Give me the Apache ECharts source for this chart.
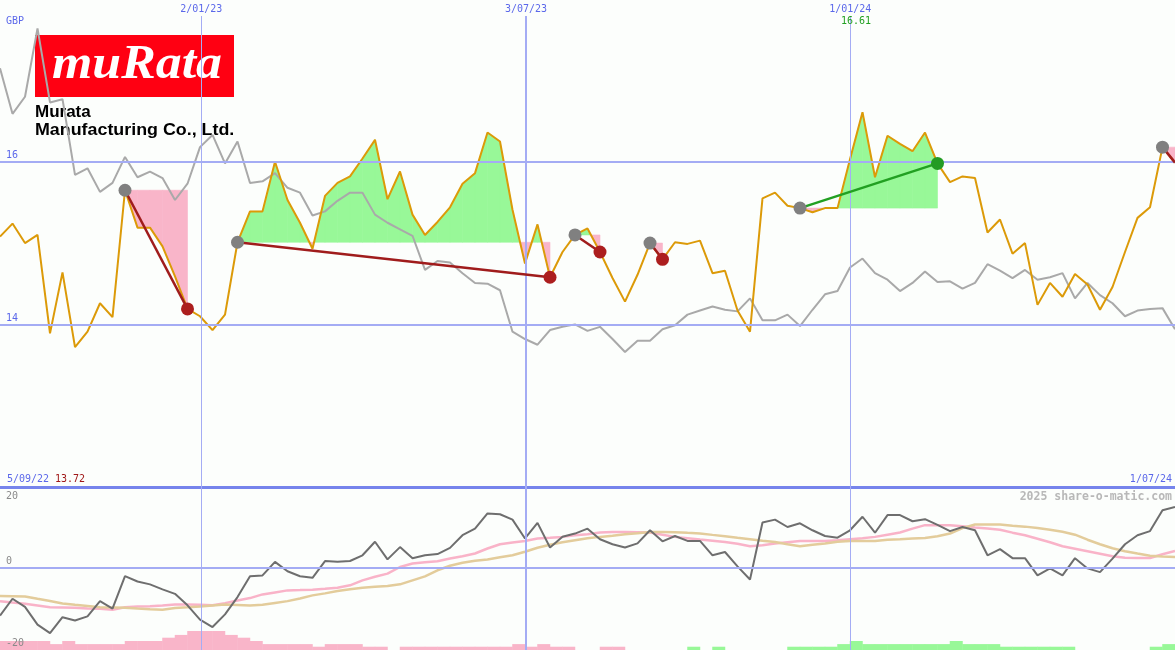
<!DOCTYPE html>
<html><head><meta charset="utf-8">
<script src="https://cdn.jsdelivr.net/npm/echarts@6/dist/echarts.min.js"></script>
<style>html,body{margin:0;padding:0;background:#fcfefc}#c{width:1175px;height:650px}</style>
</head><body><div id="c"></div>
<script>
// ---------- data (weekly points, index 0 = 5/09/22, index 94 = 1/07/24) ----------
const price = [15.08,15.24,15.00,15.10,13.89,14.64,13.72,13.91,14.26,14.09,
  15.65,15.19,15.19,14.96,14.59,14.19,14.10,13.93,14.12,15.01,
  15.39,15.39,16.00,15.53,15.25,14.93,15.58,15.74,15.82,16.04,
  16.27,15.54,15.88,15.35,15.10,15.26,15.44,15.73,15.86,16.36,
  16.25,15.41,14.75,15.23,14.58,14.89,15.10,15.18,14.89,14.57,
  14.28,14.61,15.00,14.80,15.01,14.99,15.03,14.63,14.66,14.17,
  13.91,15.55,15.62,15.46,15.43,15.38,15.43,15.43,16.03,16.61,
  15.81,16.32,16.22,16.13,16.36,15.98,15.75,15.82,15.80,15.13,
  15.29,14.87,15.00,14.24,14.51,14.34,14.62,14.49,14.18,14.46,
  14.89,15.31,15.44,16.18,15.99];
const relative = [17.15,16.59,16.80,17.64,16.73,16.77,15.84,15.92,15.63,15.74,
  16.06,15.81,15.88,15.80,15.53,15.73,16.18,16.33,15.98,16.25,
  15.74,15.76,15.86,15.68,15.62,15.34,15.39,15.52,15.62,15.62,
  15.35,15.25,15.17,15.09,14.67,14.78,14.76,14.63,14.51,14.50,
  14.42,13.91,13.82,13.75,13.93,13.97,14.00,13.92,13.97,13.82,
  13.66,13.80,13.80,13.94,13.99,14.12,14.17,14.22,14.18,14.16,
  14.32,14.05,14.05,14.12,13.98,14.18,14.37,14.41,14.70,14.81,
  14.63,14.55,14.41,14.51,14.65,14.52,14.53,14.44,14.51,14.74,
  14.66,14.57,14.67,14.55,14.58,14.63,14.32,14.51,14.36,14.26,
  14.10,14.17,14.19,14.20,13.94];
const oscillator = [-11.6,-7.5,-9.5,-13.8,-15.9,-12.0,-12.8,-11.8,-8.1,-9.9,
  -2.0,-3.3,-4.0,-5.2,-6.3,-9.1,-12.6,-14.4,-11.3,-7.1,
  -2.0,-1.8,1.5,-0.8,-2.0,-2.4,1.7,1.5,1.7,3.1,
  6.4,2.1,5.1,2.4,3.1,3.4,4.9,8.0,9.6,13.3,
  13.1,11.8,7.2,11.0,5.0,7.6,8.4,9.6,7.0,5.8,
  5.0,6.0,9.2,6.5,7.8,6.6,6.6,3.1,3.9,0.4,
  -2.8,11.1,11.8,10.0,10.9,9.2,7.8,7.4,9.2,12.5,
  8.6,12.9,12.9,11.4,11.9,10.5,9.0,10.0,9.2,3.1,
  4.6,2.4,2.4,-1.8,-0.1,-1.8,2.4,-0.1,-1.0,2.3,
  5.8,8.0,9.0,14.1,14.9];
const maFast = [-8.08,-8.40,-8.71,-9.13,-9.55,-9.62,-9.69,-9.87,-9.94,-10.18,
  -9.55,-9.38,-9.30,-9.13,-8.89,-8.89,-8.96,-9.06,-8.57,-7.91,
  -7.34,-6.44,-5.95,-5.46,-5.39,-5.29,-5.09,-4.80,-4.23,-3.01,
  -2.15,-1.37,0.24,1.08,1.40,1.64,2.30,2.86,3.53,4.75,
  5.80,6.22,6.61,7.20,7.39,7.59,8.00,8.25,8.67,8.81,
  8.81,8.74,8.67,8.13,7.59,7.27,6.95,6.66,6.36,5.92,
  5.31,5.56,5.97,6.29,6.61,6.61,6.61,6.78,7.03,7.27,
  7.59,8.13,8.67,9.60,10.45,10.45,10.45,10.21,9.89,9.65,
  9.35,8.62,8.00,7.15,6.29,5.31,4.70,4.09,3.48,2.86,
  2.50,2.45,2.45,3.35,4.16];
const maSlow = [-6.85,-6.88,-6.93,-7.49,-8.03,-8.64,-8.96,-9.25,-9.55,-9.62,
  -9.69,-9.87,-10.04,-10.18,-9.74,-9.57,-9.38,-9.13,-8.89,-9.01,
  -9.13,-8.96,-8.52,-8.08,-7.42,-6.68,-6.19,-5.63,-5.21,-4.80,
  -4.60,-4.41,-3.99,-3.01,-2.03,-0.56,0.54,1.27,1.76,2.06,
  2.62,3.11,3.97,4.94,5.68,6.29,6.78,7.27,7.59,7.88,
  8.25,8.49,8.79,8.81,8.74,8.57,8.42,8.08,7.76,7.39,
  7.03,6.66,6.36,5.80,5.31,5.68,5.97,6.41,6.61,6.61,
  6.61,6.90,7.03,7.20,7.34,7.76,8.42,9.72,10.62,10.62,
  10.62,10.33,10.09,9.77,9.35,8.86,8.13,6.90,5.80,4.82,
  4.09,3.53,2.99,2.79,2.69];
const histogram = [-2.75,-2.75,-2.75,-2.75,-1.8,-2.75,-1.8,-1.8,-1.8,-1.8,
  -2.75,-2.75,-2.75,-3.75,-4.6,-5.8,-5.8,-5.8,-4.6,-3.75,
  -2.75,-1.8,-1.8,-1.8,-1.8,-1,-1.8,-1.8,-1.8,-1,
  -1,0,-1,-1,-1,-1,-1,-1,-1,-1,
  -1,-1.8,-1,-1.8,-1,-1,0,0,-1,-1,
  0,0,0,0,0,1,0,1,0,0,
  0,0,0,1,1,1,1,1.8,2.75,1.8,
  1.8,1.8,1.8,1.8,1.8,1.8,2.75,1.8,1.8,1.8,
  1,1,1,1,1,1,0,0,0,0,
  0,0,1,1.8,0];
const priceTicks = [16, 14];
const oscTicks = [20, 0, -20];
const dateTickPos = [16.1, 42.08, 68.02];
const dateTickLabels = ['2/01/23', '3/07/23', '1/01/24'];
const firstDate = '5/09/22';
const lastDate = '1/07/24';
const currency = 'GBP';
const tradeEntry = [10, 19, 46, 52, 64, 93];
const tradeExit = [15, 44, 48, 53, 75, 94];
const tradeClosed = [true, true, true, true, true, false];

// ---------- styles ----------
const BLUE_TXT = '#5b68ea', GRID = '#a4acf4', SEP = '#7684ec';
const ORANGE = '#dc9a08', GREYLINE = '#a9a9a9', OSC = '#6e6e6e';
const PINK = '#f9b5c9', GREEN = '#98f898', TAN = '#e3cc9b', PINKMA = '#f9b3c8';
const MONO = '"DejaVu Sans Mono", monospace';

const chart = echarts.init(document.getElementById('c'), null, {renderer: 'canvas'});

function renderFill(params, api) {
  const t = params.dataIndex;
  const s = tradeEntry[t], e = tradeExit[t];
  const E = price[s];
  const kids = [];
  const poly = (pts, up) => kids.push({
    type: 'polygon',
    shape: {points: pts.map(p => api.coord(p))},
    style: {fill: up ? GREEN : PINK, stroke: up ? GREEN : PINK, lineWidth: 0.6}
  });
  for (let i = s; i < e; i++) {
    const p0 = price[i], p1 = price[i + 1], d0 = p0 - E, d1 = p1 - E;
    if (d0 * d1 < 0) {
      const m = i + d0 / (d0 - d1);
      poly([[i, E], [i, p0], [m, E]], d0 > 0);
      poly([[m, E], [i + 1, p1], [i + 1, E]], d1 > 0);
    } else {
      poly([[i, E], [i, p0], [i + 1, p1], [i + 1, E]], d0 + d1 > 0);
    }
  }
  return {type: 'group', children: kids};
}

const maxP = Math.max(...price), minP = Math.min(...price);
const idx = a => a.map((v, i) => [i, v]);
const CLEAR = 'rgba(0,0,0,0)';

const topMark = {
  symbol: ['none', 'none'], silent: true, animation: false,
  data: [
    ...priceTicks.map(v => ({
      yAxis: v,
      lineStyle: {color: GRID, width: 2, type: 'solid'},
      label: {show: true, position: 'insideStartTop', formatter: String(v), color: BLUE_TXT,
        fontFamily: MONO, fontSize: 10, distance: [6, 1]}
    })),
    ...dateTickPos.map((x, k) => ({
      xAxis: x,
      lineStyle: {color: GRID, width: k === 1 ? 2 : 1, type: 'solid'},
      label: {show: true, position: 'end', formatter: dateTickLabels[k], color: BLUE_TXT,
        fontFamily: MONO, fontSize: 10, distance: 2}
    }))
  ]
};
const botMark = {
  symbol: ['none', 'none'], silent: true, animation: false,
  data: [
    ...oscTicks.map(v => ({
      yAxis: v,
      lineStyle: v === 0 ? {color: GRID, width: 2, type: 'solid'} : {color: CLEAR, width: 1, type: 'solid'},
      label: {show: true, position: v === 20 ? 'insideStartBottom' : 'insideStartTop',
        formatter: String(v), color: '#8a8a8a', fontFamily: MONO, fontSize: 10,
        distance: v === 20 ? [6, 5] : [6, 2]}
    })),
    ...dateTickPos.map((x, k) => ({
      xAxis: x,
      lineStyle: {color: GRID, width: k === 1 ? 2 : 1, type: 'solid'},
      label: {show: false}
    }))
  ]
};

const option = {
  backgroundColor: '#fcfefc',
  animation: false,
  grid: [
    {left: 0, right: 0, top: 16, height: 471},
    {left: 0, right: 0, top: 486, height: 164}
  ],
  xAxis: [
    {gridIndex: 0, type: 'value', min: 0, max: 94,
      axisLine: {show: true, onZero: false, lineStyle: {color: SEP, width: 3}},
      axisTick: {show: false}, axisLabel: {show: false}, splitLine: {show: false}},
    {gridIndex: 1, type: 'value', min: 0, max: 94, show: false}
  ],
  yAxis: [
    {gridIndex: 0, type: 'value', min: 12, max: 17.793, show: false},
    {gridIndex: 1, type: 'value', min: -20, max: 20, show: false},
    {gridIndex: 1, type: 'value', min: 0, max: 50, show: false}
  ],
  graphic: [
    {type: 'rect', left: 35, top: 35, z: -10, shape: {width: 199, height: 62}, style: {fill: '#ff0012'}},
    {type: 'text', x: 52, y: 66, z: -10, scaleX: 1.08, style: {text: 'muRata', fill: '#ffffff',
      font: 'italic bold 48px "Liberation Serif"', textVerticalAlign: 'middle'}},
    {type: 'text', x: 35, y: 112, z: -10, style: {text: 'Murata', fill: '#000',
      font: 'bold 17px "Liberation Sans"', textVerticalAlign: 'middle'}},
    {type: 'text', x: 35, y: 130, z: -10, scaleX: 1.05, style: {text: 'Manufacturing Co., Ltd.', fill: '#000',
      font: 'bold 17px "Liberation Sans"', textVerticalAlign: 'middle'}},
    {type: 'text', left: 6, top: 16, z: 10, style: {text: currency, fill: BLUE_TXT, font: '10px ' + MONO}},
    {type: 'text', left: 841, top: 16, z: 10, style: {text: maxP.toFixed(2), fill: '#22a022', font: '10px ' + MONO}},
    {type: 'text', left: 7, top: 474, z: 10, style: {text: firstDate, fill: BLUE_TXT, font: '10px ' + MONO}},
    {type: 'text', left: 55, top: 474, z: 10, style: {text: minP.toFixed(2), fill: '#a01818', font: '10px ' + MONO}},
    {type: 'text', right: 3, top: 474, z: 10, style: {text: lastDate, fill: BLUE_TXT, font: '10px ' + MONO}},
    {type: 'text', right: 3, top: 491, z: 10, style: {text: '2025 share-o-matic.com', fill: '#b8b8b8',
      font: 'bold 11.5px ' + MONO}}
  ],
  series: [
    {type: 'custom', xAxisIndex: 0, yAxisIndex: 0, z: 1, silent: true,
      data: tradeEntry.map(s => [s, price[s]]), encode: {x: 0, y: 1}, renderItem: renderFill},
    {type: 'line', xAxisIndex: 0, yAxisIndex: 0, z: 3, showSymbol: false, silent: true,
      data: idx(relative), lineStyle: {color: GREYLINE, width: 2}},
    {type: 'line', xAxisIndex: 0, yAxisIndex: 0, z: 4, showSymbol: false, silent: true,
      data: idx(price), lineStyle: {color: ORANGE, width: 2}, markLine: topMark},
    {type: 'lines', coordinateSystem: 'cartesian2d', xAxisIndex: 0, yAxisIndex: 0, z: 5, silent: true,
      lineStyle: {opacity: 1, curveness: 0},
      data: tradeEntry.map((s, t) => {
        const e = tradeExit[t];
        const win = price[e] > price[s];
        return {coords: [[s, price[s]], [e, price[e]]],
          lineStyle: {color: win ? '#22a022' : '#a01c1c', width: 2.5, opacity: 1}};
      })},
    {type: 'scatter', xAxisIndex: 0, yAxisIndex: 0, z: 6, silent: true, symbolSize: 13,
      data: tradeEntry.map(s => [s, price[s]]), itemStyle: {color: '#808080', opacity: 1}},
    {type: 'scatter', xAxisIndex: 0, yAxisIndex: 0, z: 6, silent: true, symbolSize: 13,
      data: tradeExit.filter((e, t) => tradeClosed[t]).map(e => [e, price[e]]),
      itemStyle: {opacity: 1, color: p => {
        const t = tradeExit.indexOf(p.value[0]);
        return price[tradeExit[t]] > price[tradeEntry[t]] ? '#239b23' : '#ac1e1e';
      }}},
    {type: 'bar', xAxisIndex: 1, yAxisIndex: 2, z: 1, silent: true, barWidth: 13,
      data: histogram.map((v, i) => [i + 0.5, Math.abs(v)]),
      itemStyle: {color: p => histogram[p.dataIndex] < 0 ? PINK : GREEN}},
    {type: 'line', xAxisIndex: 1, yAxisIndex: 1, z: 2, showSymbol: false, silent: true,
      data: idx(maFast), lineStyle: {color: PINKMA, width: 2.5}},
    {type: 'line', xAxisIndex: 1, yAxisIndex: 1, z: 2, showSymbol: false, silent: true,
      data: idx(maSlow), lineStyle: {color: TAN, width: 2.5}},
    {type: 'line', xAxisIndex: 1, yAxisIndex: 1, z: 3, showSymbol: false, silent: true,
      data: idx(oscillator), lineStyle: {color: OSC, width: 2}, markLine: botMark}
  ]
};
chart.setOption(option);
</script>
</body></html>
